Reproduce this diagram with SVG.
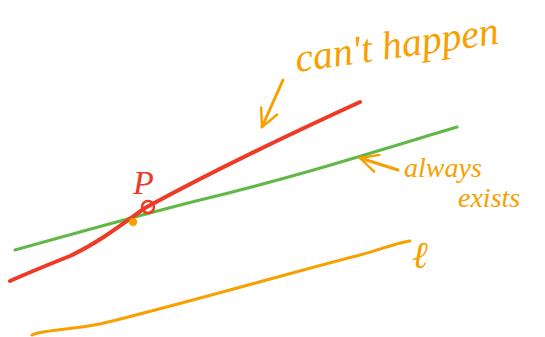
<svg xmlns="http://www.w3.org/2000/svg" width="545" height="337" viewBox="0 0 545 337">
<style>
.ln{fill:none;stroke-linecap:round;stroke-linejoin:round}
.or{stroke:#f7a000}
.txt{font-family:"Liberation Serif",serif;font-style:italic;fill:#f7a000}
</style>
<defs>
<marker id="ah" viewBox="0 0 20 20" refX="18" refY="10" markerWidth="22" markerHeight="22" markerUnits="userSpaceOnUse" orient="auto">
<path d="M2,2 L18,10 L2,18" fill="none" stroke="#f7a000" stroke-width="2.2" stroke-linecap="round" stroke-linejoin="round"/>
</marker>
</defs>
<rect width="545" height="337" fill="#ffffff"/>
<g id="line-l">
<path class="ln or" stroke-width="3" d="M32,335 C40,330 70,330 100,324 C180,305 300,270 360,255 C385,248 400,242 410,241"/>
</g>
<g id="line-green">
<path class="ln" stroke="#62b846" stroke-width="3" d="M15,250 C80,232 140,215 200,200 C300,176 380,150 457,127"/>
</g>
<g id="line-red">
<path class="ln" stroke="#ee3a26" stroke-width="4" d="M10,281 C30,272 50,264 70,256 C100,242 125,222 145,208 C200,178 290,134 360,102"/>
</g>
<g id="point-P">
<circle cx="133" cy="222" r="4" fill="#f7a000"/>
<circle cx="148" cy="207" r="6" fill="none" stroke="#ee3a26" stroke-width="2.5"/>
<text x="133" y="194" font-family="Liberation Serif,serif" font-style="italic" font-size="34" fill="#ee3a26">P</text>
</g>
<g id="label-cant">
<text class="txt" x="297" y="72" font-size="40" transform="rotate(-8 297 72)">can't happen</text>
</g>
<g id="label-always">
<text class="txt" x="404" y="177" font-size="28">always</text>
<text class="txt" x="458" y="207" font-size="28">exists</text>
</g>
<g id="label-l">
<text class="txt" x="412" y="268" font-size="38">ℓ</text>
</g>
<g id="connectors">
<path class="ln or" stroke-width="3" d="M283,80 L262,127" marker-end="url(#ah)"/>
<path class="ln or" stroke-width="3" d="M398,170 L360,158" marker-end="url(#ah)"/>
</g>
</svg>
